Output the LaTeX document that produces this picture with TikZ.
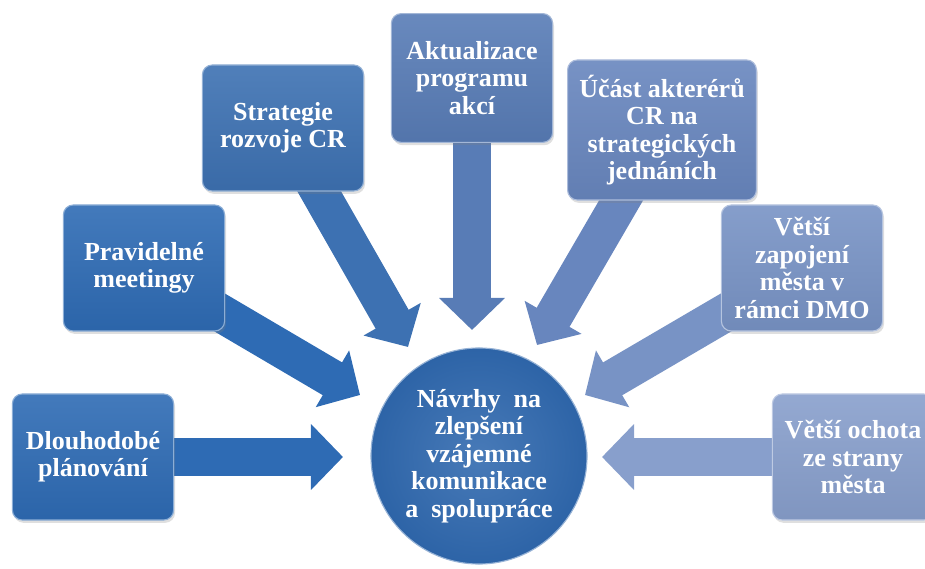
\documentclass[tikz,border=0pt]{standalone}
\usepackage{fontspec}
\setmainfont{Liberation Serif}
\usetikzlibrary{arrows.meta,shadows}
\definecolor{cdeep}{HTML}{2E6BB4}
\definecolor{cstrat}{HTML}{3D71B2}
\definecolor{cakt}{HTML}{587CB6}
\definecolor{cucast}{HTML}{6886BE}
\definecolor{czap}{HTML}{7893C5}
\definecolor{coch}{HTML}{889FCC}
\definecolor{ccent}{HTML}{2F68AE}
\pgfdeclarelayer{bg}
\pgfsetlayers{bg,main}

\begin{document}
\begin{tikzpicture}[x=0.025cm,y=-0.025cm,
  tile/.style={rounded corners=7pt,draw=#1!55!white,line width=0.8pt,
    top color=#1!90!white,bottom color=#1!94!black,
    minimum width=4.03cm,minimum height=3.15cm,align=center,text=white,
    font=\fontsize{18.5}{19.5}\selectfont\bfseries,inner sep=2pt,
    drop shadow={opacity=0.25,shadow xshift=1pt,shadow yshift=-2pt}},
  fat/.style={draw=#1,line width=0.95cm,-{Triangle[length=0.8cm,width=1.6cm]}}]
  \clip (0,0) rectangle (925,569);
  % the seven proposals
  \node[tile=cdeep] (plan) at (93,457) {Dlouhodobé\\plánování};
  \node[tile=cdeep] (meet) at (144,268) {Pravidelné\\meetingy};
  \node[tile=cstrat] (strat) at (283,128) {Strategie\\rozvoje CR};
  \node[tile=cakt,minimum height=3.22cm] (akt) at (472,78)
    {Aktualizace\\programu\\akcí};
  \node[tile=cucast,minimum width=4.72cm,minimum height=3.5cm] (ucast) at (662,130)
    {Účást akterérů\\CR na\\strategických\\jednáních};
  \node[tile=czap] (zap) at (802,268) {Větší\\zapojení\\města v\\rámci DMO};
  \node[tile=coch] (ochota) at (853,457) {Větší ochota\\ze strany\\města};
  % centre
  \node[circle,minimum size=5.4cm,inner sep=0pt,draw=ccent!50!white,line width=0.8pt,
    inner color=ccent!88!white,outer color=ccent!96!black,align=center,text=white,
    font=\fontsize{18.5}{19.5}\selectfont\bfseries] (navrh) at (479,456)
    {Návrhy\ \ na\\zlepšení\\vzájemné\\komunikace\\a\ \ spolupráce};
  % arrow tips round the centre
  \coordinate (tplan) at (343,457);
  \coordinate (tmeet) at (360,395);
  \coordinate (tstrat) at (408,347);
  \coordinate (takt) at (472,330);
  \coordinate (tucast) at (537,345);
  \coordinate (tzap) at (585,395);
  \coordinate (toch) at (602,457);
  \begin{pgfonlayer}{bg}
    \draw[fat=cdeep] (plan.center) -- (tplan);
    \draw[fat=cdeep] (meet.center) -- (tmeet);
    \draw[fat=cstrat] (strat.center) -- (tstrat);
    \draw[fat=cakt] (akt.center) -- (takt);
    \draw[fat=cucast] (ucast.center) -- (tucast);
    \draw[fat=czap] (zap.center) -- (tzap);
    \draw[fat=coch] (ochota.center) -- (toch);
  \end{pgfonlayer}
\end{tikzpicture}
\end{document}
